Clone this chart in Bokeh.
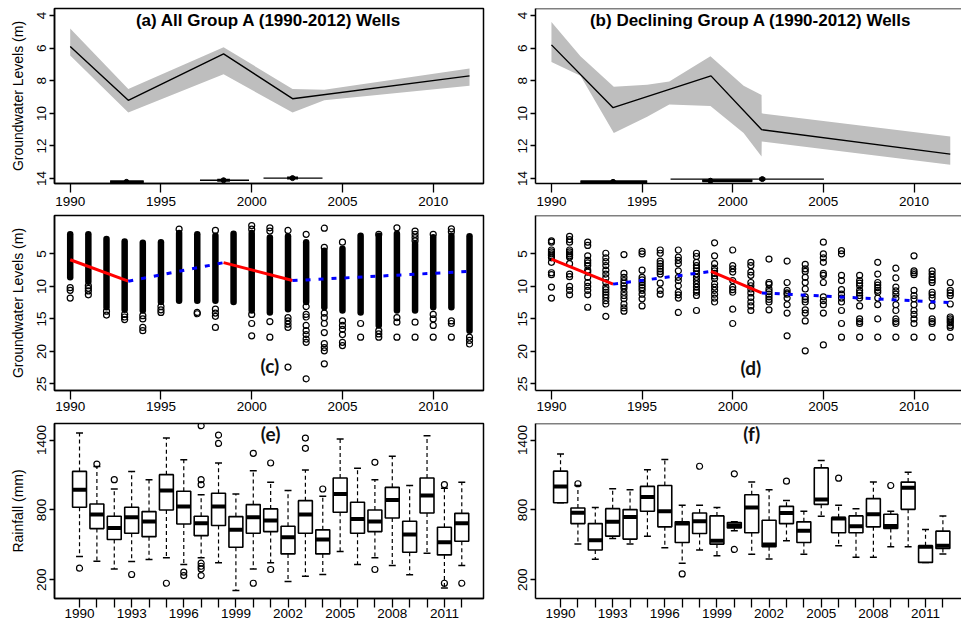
import math
from bokeh.plotting import figure
from bokeh.layouts import column, row
from bokeh.models import Range1d, FixedTicker, Span, Label
from bokeh.embed import file_html
from bokeh.resources import INLINE

FONT = "Liberation Sans"
LBL_FONT = "Lato"

# ---------------- data ----------------
years = list(range(1990, 2013))
year_ticks = [1990, 1995, 2000, 2005, 2010]
gw_ticks_top = [4, 6, 8, 10, 12, 14]
gw_ticks_mid = [5, 10, 15, 20, 25]
rain_ticks = [200, 800, 1400]
rain_tick_labels = ["1990", "", "", "1993", "", "", "1996", "", "", "1999", "", "",
                    "2002", "", "", "2005", "", "", "2008", "", "", "2011", ""]

# (a) all wells: segmented fit, confidence band, breakpoint CIs
a_break_x = [1990, 1993.2, 1998.45, 2002.25, 2012]
a_break_y = [5.9, 9.2, 6.35, 9.1, 7.7]
a_band_x = [1990, 1993.2, 1998.45, 2002.25, 2004.0, 2012]
a_band_up = [4.8, 8.5, 5.95, 8.5, 8.55, 7.25]
a_band_dn = [6.45, 9.95, 7.6, 9.95, 9.2, 8.3]
a_ci_pt = [1993.1, 1998.45, 2002.25]
a_ci_y = [14.2, 14.1, 13.97]
a_ci_inner_lo = [1992.2, 1998.1, 2001.95]
a_ci_inner_hi = [1994.05, 1998.8, 2002.55]
a_ci_outer_lo = [1992.2, 1997.15, 2000.65]
a_ci_outer_hi = [1994.05, 1999.85, 2003.9]

# (b) declining wells
b_break_x = [1990, 1993.4, 1998.8, 2001.6, 2012]
b_break_y = [5.8, 9.65, 7.7, 11.0, 12.5]
b_band_x = [1990, 1991.6, 1993.44, 1995.28, 1996.5, 1998.77, 2000.6, 2001.59, 2001.6, 2012]
b_band_up = [4.4, 6.5, 8.37, 8.25, 8.05, 6.5, 8.3, 8.88, 10.0, 11.42]
b_band_dn = [6.85, 7.7, 11.2, 10.2, 9.45, 9.55, 11.2, 12.64, 11.72, 13.15]
b_ci_pt = [1993.4, 1998.77, 2001.63]
b_ci_y = [14.2, 14.13, 14.03]
b_ci_inner_lo = [1991.6, 1998.32, 2001.45]
b_ci_inner_hi = [1995.28, 2001.08, 2001.8]
b_ci_outer_lo = [1991.6, 1998.32, 1996.57]
b_ci_outer_hi = [1995.28, 2001.08, 2005.03]

# (c) groundwater levels of all wells: dense range per year + separate readings
c_lo = [2.0, 2.0, 2.7, 3.1, 3.3, 3.2, 1.8, 2.0, 2.2, 1.9, 1.8, 2.5, 2.3, 3.2, 4.5, 4.2,
        2.2, 2.2, 1.9, 3.5, 2.45, 2.2, 2.3]
c_hi = [8.6, 9.3, 13.2, 13.6, 13.7, 12.4, 12.2, 12.2, 12.2, 12.4, 13.7, 14.0, 13.5, 12.4,
        13.2, 13.7, 14.0, 16.0, 13.7, 13.7, 13.2, 13.2, 16.8]
c_extra = [
    [10.2, 10.6, 11.8],
    [9.9, 10.3, 10.7, 11.3],
    [13.8, 14.4],
    [14.3, 14.7, 15.1],
    [14.5, 15.0, 16.3, 16.8],
    [13.1, 13.6, 14.0],
    [1.2],
    [14.0, 14.2],
    [1.4, 13.5, 14.1, 14.6, 16.3],
    [],
    [0.65, 1.2, 14.3, 15.7, 17.6],
    [1.0, 1.5, 15.4, 17.8],
    [1.4, 14.8, 15.3, 15.8, 16.3, 22.4],
    [2.0, 13.1, 14.3, 14.7, 16.0, 16.8, 17.4, 18.1, 18.6, 24.2],
    [1.05, 4.0, 14.1, 14.8, 15.7, 17.1, 18.8, 19.4, 19.9, 21.9],
    [3.2, 15.3, 16.0, 16.6, 17.4, 18.6, 19.1],
    [15.7, 17.8],
    [2.0, 16.8, 17.3, 17.8],
    [1.0, 14.8, 15.5, 17.8],
    [1.5, 2.0, 2.5, 3.0, 15.5, 17.8],
    [2.0, 14.3, 15.0, 16.0, 17.8],
    [1.15, 1.6, 15.3, 15.7, 17.8],
    [17.8, 18.3, 18.85],
]

# (d) groundwater levels of declining wells
d_levels = [
    [3.0, 3.2, 4.4, 4.7, 5.0, 5.3, 5.6, 6.3, 7.9, 8.2, 10.1, 11.8],
    [2.3, 2.8, 3.2, 4.4, 4.7, 5.0, 5.3, 5.5, 6.5, 8.1, 8.5, 10.0, 10.6, 11.3],
    [3.2, 3.7, 5.3, 6.0, 6.4, 6.8, 7.5, 7.8, 8.6, 9.4, 10.0, 10.6, 11.3, 13.2],
    [4.9, 5.6, 6.2, 6.8, 7.5, 8.1, 8.7, 9.4, 10.1, 10.5, 10.9, 11.3, 11.7, 12.2, 12.7, 14.6],
    [5.1, 8.0, 8.6, 9.1, 9.5, 9.9, 10.3, 10.9, 11.4, 11.9, 12.7, 13.3, 13.8],
    [4.6, 5.0, 7.5, 8.6, 9.0, 9.4, 9.8, 10.2, 10.6, 11.2, 11.9, 13.0],
    [4.4, 4.9, 6.1, 6.5, 6.9, 7.3, 7.7, 8.1, 9.5, 10.6, 11.2],
    [4.4, 5.5, 6.0, 6.5, 7.6, 8.6, 9.1, 9.9, 10.9, 11.3, 11.8, 14.0],
    [4.9, 5.4, 6.3, 6.8, 7.2, 7.6, 8.1, 8.6, 9.1, 9.6, 10.1, 10.6, 10.9, 11.4, 13.7],
    [3.3, 5.3, 6.5, 7.2, 7.6, 8.0, 8.4, 8.8, 9.6, 10.1, 10.6, 11.2, 11.8, 12.4],
    [4.4, 6.8, 7.3, 7.8, 9.1, 10.1, 10.5, 10.9, 13.5, 15.7],
    [6.3, 6.8, 7.8, 8.3, 9.4, 9.9, 10.4, 11.0, 11.7, 12.4, 13.0, 13.7],
    [5.8, 9.4, 9.7, 10.4, 10.8, 11.2, 11.6, 12.0, 12.4, 13.6],
    [6.1, 9.4, 10.6, 11.0, 11.2, 11.8, 12.8, 14.1, 17.6],
    [6.6, 7.3, 7.7, 8.6, 9.4, 10.4, 11.6, 12.0, 12.4, 13.6, 14.1, 15.3, 19.9],
    [3.2, 5.0, 5.6, 6.3, 8.0, 8.3, 9.4, 11.6, 12.2, 12.8, 14.1, 19.0],
    [4.5, 5.0, 8.3, 9.1, 10.5, 11.2, 11.8, 12.4, 13.7, 15.7, 17.8],
    [8.3, 9.1, 9.5, 9.9, 10.6, 11.0, 11.4, 11.8, 13.0, 15.0, 15.4, 15.7, 17.8],
    [6.3, 8.1, 9.4, 9.8, 10.2, 10.6, 10.9, 11.8, 12.8, 15.0, 17.8],
    [7.2, 8.7, 10.1, 10.7, 11.2, 11.8, 12.8, 13.7, 15.0, 15.4, 15.7, 17.8],
    [5.3, 7.6, 7.9, 8.2, 10.6, 11.4, 11.9, 12.8, 13.7, 14.3, 15.0, 15.7, 17.8],
    [7.6, 8.1, 8.6, 9.0, 9.4, 10.9, 11.3, 11.8, 13.0, 15.0, 15.4, 15.7, 17.8],
    [9.4, 10.6, 11.0, 11.4, 12.7, 14.7, 15.0, 15.3, 15.6, 16.0, 16.3, 17.8],
]

# (e) rainfall at all wells (box plot statistics, mm)
e_whi_hi = [1460, 1174, 980, 1129, 1060, 1417, 1231, 931, 1203, 937, 1137, 1037, 966, 1143,
            917, 1409, 1157, 1060, 1260, 1009, 1437, 986, 1037]
e_q3 = [1131, 851, 746, 823, 786, 1103, 960, 746, 943, 743, 846, 809, 660, 880, 629, 1074,
        866, 800, 994, 703, 1074, 651, 771]
e_med = [974, 760, 646, 737, 700, 966, 829, 686, 829, 631, 737, 709, 566, 760, 546, 937,
         723, 700, 886, 589, 923, 523, 686]
e_q1 = [823, 640, 546, 600, 571, 800, 680, 580, 666, 480, 600, 614, 423, 600, 423, 780,
        600, 614, 731, 437, 774, 414, 531]
e_whi_lo = [400, 360, 294, 357, 374, 389, 331, 389, 346, 108, 294, 346, 186, 231, 246, 443,
            331, 389, 323, 243, 429, 131, 323]
e_out_year = [1990, 1991, 1992, 1993, 1995, 1996, 1996, 1997, 1997, 1997, 1997, 1997, 1997,
              1997, 1998, 1998, 2000, 2000, 2001, 2001, 2003, 2003, 2004, 2007, 2007, 2011,
              2011, 2012]
e_out_val = [300, 1194, 1060, 246, 171, 266, 237, 1523, 1060, 1017, 343, 317, 294, 237,
             1443, 1371, 1286, 171, 1203, 289, 1417, 1329, 980, 1209, 289, 1017, 171, 171]

# (f) rainfall at declining wells
f_whi_hi = [1281, 1010, 820, 982, 973, 1144, 1232, 840, 840, 820, 698, 1039, 973, 882, 789,
            1224, 840, 811, 1039, 789, 1124, 632, 749]
f_q3 = [1133, 817, 683, 811, 803, 1002, 1010, 698, 774, 749, 692, 931, 712, 831, 698, 1161,
        734, 749, 897, 763, 1039, 493, 618]
f_med = [1002, 777, 541, 698, 740, 911, 789, 683, 703, 535, 669, 820, 504, 774, 621, 890,
         726, 661, 763, 663, 990, 484, 493]
f_q1 = [862, 683, 456, 575, 550, 789, 655, 521, 598, 507, 646, 604, 484, 683, 521, 848, 604,
        604, 655, 641, 805, 350, 470]
f_whi_lo = [862, 507, 376, 555, 507, 575, 476, 342, 456, 407, 621, 419, 379, 535, 419, 746,
            493, 393, 393, 484, 484, 350, 422]
f_out_year = [1991, 1997, 1998, 2000, 2000, 2003, 2006, 2009]
f_out_val = [1025, 251, 1175, 1110, 461, 1047, 1073, 1010]

titles = ["(a) All Group A (1990-2012) Wells", "(b) Declining Group A (1990-2012) Wells"]
panel_tags = ["(c)", "(d)", "(e)", "(f)"]
gw_title = "Groundwater Levels (m)"
rain_title = "Rainfall (mm)"


# ---------------- helpers ----------------
def make_fig(width, height, xr, yr, left, right, top, bottom, x_standoff, is_right):
    p = figure(width=width, height=height, x_range=xr, y_range=yr,
               output_backend="svg", toolbar_location=None,
               min_border_left=left, min_border_right=right,
               min_border_top=top, min_border_bottom=bottom)
    p.grid.visible = False
    p.background_fill_color = "white"
    p.border_fill_color = "white"
    for ax in (p.xaxis[0], p.yaxis[0]):
        ax.minor_tick_line_color = None
        ax.major_tick_in = 0
        ax.major_tick_line_color = "black"
        ax.major_tick_line_width = 1.3
        ax.axis_line_color = "black"
        ax.axis_line_width = 1.5
        ax.major_label_text_font = FONT
        ax.major_label_text_font_size = "13.5px"
        ax.major_label_text_color = "black"
        ax.axis_label_text_font = FONT
        ax.axis_label_text_font_size = "14px"
        ax.axis_label_text_font_style = "normal"
        ax.axis_label_text_color = "black"
    p.xaxis.major_tick_out = 9
    p.xaxis.major_label_standoff = x_standoff
    p.yaxis.major_tick_out = 5
    p.yaxis.major_label_standoff = 3
    p.yaxis.axis_label_standoff = 9
    p.yaxis.major_label_orientation = "vertical"
    if is_right:
        p.outline_line_color = None
        p.add_layout(Span(location=yr.end, dimension="width", line_color="black",
                          line_width=1.5))
    else:
        p.outline_line_color = "black"
        p.outline_line_width = 1.5
        p.outline_line_alpha = 1.0
    return p


LW, RW = 505, 456
H1, H2, H3 = 212, 208, 205


def top_panel(is_right, bx, by, bandx, bup, bdn, ci_pt, ci_y, in_lo, in_hi, out_lo, out_hi, title):
    if is_right:
        xr = Range1d(1989.12, 2012.62)
        p = make_fig(RW, H1, xr, Range1d(14.3, 3.57), 30, 0, 8, 29, 4, True)
    else:
        xr = Range1d(1989.135, 2012.77)
        p = make_fig(LW, H1, xr, Range1d(14.3, 3.57), 54, 22, 8, 29, 4, False)
        p.yaxis.axis_label = gw_title
    p.xaxis.ticker = FixedTicker(ticks=year_ticks)
    p.yaxis.ticker = FixedTicker(ticks=gw_ticks_top)
    p.varea(x=bandx, y1=bup, y2=bdn, fill_color="#bebebe")
    p.line(bx, by, line_color="black", line_width=1.4)
    p.segment(x0=out_lo, y0=ci_y, x1=out_hi, y1=ci_y, line_color="black", line_width=1.3)
    p.segment(x0=in_lo, y0=ci_y, x1=in_hi, y1=ci_y, line_color="black", line_width=3)
    p.scatter(ci_pt, ci_y, size=5, marker="circle", fill_color="black", line_color="black")
    p.add_layout(Label(x=(xr.start + xr.end) / 2 if not is_right else 2001.0, y=4.3,
                       text=title, text_align="center", text_baseline="middle",
                       text_font=FONT, text_font_style="bold", text_font_size="17px",
                       text_color="black"))
    return p


def trend(p, bx, by):
    p.segment(x0=[bx[0], bx[2]], y0=[by[0], by[2]], x1=[bx[1], bx[3]], y1=[by[1], by[3]],
              line_color="red", line_width=3)
    p.segment(x0=[bx[1], bx[3]], y0=[by[1], by[3]], x1=[bx[2], bx[4]], y1=[by[2], by[4]],
              line_color="blue", line_width=3, line_dash="5 8")


def mid_panel(is_right):
    if is_right:
        p = make_fig(RW, H2, Range1d(1989.12, 2012.62), Range1d(26.0, -0.9), 30, 0, 3, 30, 2, True)
    else:
        p = make_fig(LW, H2, Range1d(1989.135, 2012.77), Range1d(26.0, -0.9), 54, 22, 3, 30, 2, False)
        p.yaxis.axis_label = gw_title
    p.xaxis.ticker = FixedTicker(ticks=year_ticks)
    p.yaxis.ticker = FixedTicker(ticks=gw_ticks_mid)
    return p


def box_panel(is_right, whi, q3, med, q1, wlo, oy, ov, tag):
    idx = list(range(1, len(years) + 1))
    if is_right:
        p = make_fig(RW, H3, Range1d(-0.44, 24.07), Range1d(40, 1542), 30, 0, 3, 27, 1, True)
    else:
        p = make_fig(LW, H3, Range1d(-0.44, 24.25), Range1d(40, 1542), 54, 22, 3, 27, 1, False)
        p.yaxis.axis_label = rain_title
    p.xaxis.ticker = FixedTicker(ticks=idx)
    p.xaxis.major_label_overrides = {i: lab for i, lab in zip(idx, rain_tick_labels)}
    p.yaxis.ticker = FixedTicker(ticks=rain_ticks)
    # whiskers (dashed)
    p.segment(x0=idx, y0=q3, x1=idx, y1=whi, line_color="black", line_width=1.2, line_dash="4 3")
    p.segment(x0=idx, y0=q1, x1=idx, y1=wlo, line_color="black", line_width=1.2, line_dash="4 3")
    # caps
    p.segment(x0=[i - 0.2 for i in idx], y0=whi, x1=[i + 0.2 for i in idx], y1=whi,
              line_color="black", line_width=1.5)
    p.segment(x0=[i - 0.2 for i in idx], y0=wlo, x1=[i + 0.2 for i in idx], y1=wlo,
              line_color="black", line_width=1.5)
    # boxes
    p.vbar(x=idx, width=0.8, top=q3, bottom=q1, fill_color="white", line_color="black",
           line_width=1.6)
    # medians
    p.segment(x0=[i - 0.4 for i in idx], y0=med, x1=[i + 0.4 for i in idx], y1=med,
              line_color="black", line_width=4)
    # outliers
    ox = [years.index(y) + 1 for y in oy]
    p.scatter(ox, ov, size=6, marker="circle", fill_color=None, line_color="black",
              line_width=1.2)
    p.add_layout(Label(x=12, y=1456, text=tag, text_align="center", text_baseline="middle",
                       text_font=LBL_FONT, text_font_style="bold", text_font_size="19px",
                       text_color="#111111"))
    return p


# ---------------- panels ----------------
pa = top_panel(False, a_break_x, a_break_y, a_band_x, a_band_up, a_band_dn, a_ci_pt, a_ci_y,
               a_ci_inner_lo, a_ci_inner_hi, a_ci_outer_lo, a_ci_outer_hi, titles[0])
pb = top_panel(True, b_break_x, b_break_y, b_band_x, b_band_up, b_band_dn, b_ci_pt, b_ci_y,
               b_ci_inner_lo, b_ci_inner_hi, b_ci_outer_lo, b_ci_outer_hi, titles[1])

pc = mid_panel(False)
pc.segment(x0=years, y0=c_lo, x1=years, y1=c_hi, line_color="black", line_width=6.5,
           line_cap="round")
cx, cy = [], []
for yr_, vals in zip(years, c_extra):
    cx += [yr_] * len(vals)
    cy += vals
pc.scatter(cx, cy, size=6, marker="circle", fill_color=None, line_color="black", line_width=1.2)
trend(pc, a_break_x, a_break_y)
pc.add_layout(Label(x=2001, y=22.2, text=panel_tags[0], text_align="center",
                    text_baseline="middle", text_font=LBL_FONT, text_font_style="bold",
                    text_font_size="19px", text_color="#111111"))

pd_ = mid_panel(True)
dx, dy = [], []
for yr_, vals in zip(years, d_levels):
    dx += [yr_] * len(vals)
    dy += vals
pd_.scatter(dx, dy, size=6, marker="circle", fill_color=None, line_color="black",
            line_width=1.2)
trend(pd_, b_break_x, b_break_y)
pd_.add_layout(Label(x=2001, y=22.4, text=panel_tags[1], text_align="center",
                     text_baseline="middle", text_font=LBL_FONT, text_font_style="bold",
                     text_font_size="19px", text_color="#111111"))

pe = box_panel(False, e_whi_hi, e_q3, e_med, e_q1, e_whi_lo, e_out_year, e_out_val, panel_tags[2])
pf = box_panel(True, f_whi_hi, f_q3, f_med, f_q1, f_whi_lo, f_out_year, f_out_val, panel_tags[3])

layout = column(row(pa, pb), row(pc, pd_), row(pe, pf))

open("out.html", "w").write(file_html(layout, INLINE))
